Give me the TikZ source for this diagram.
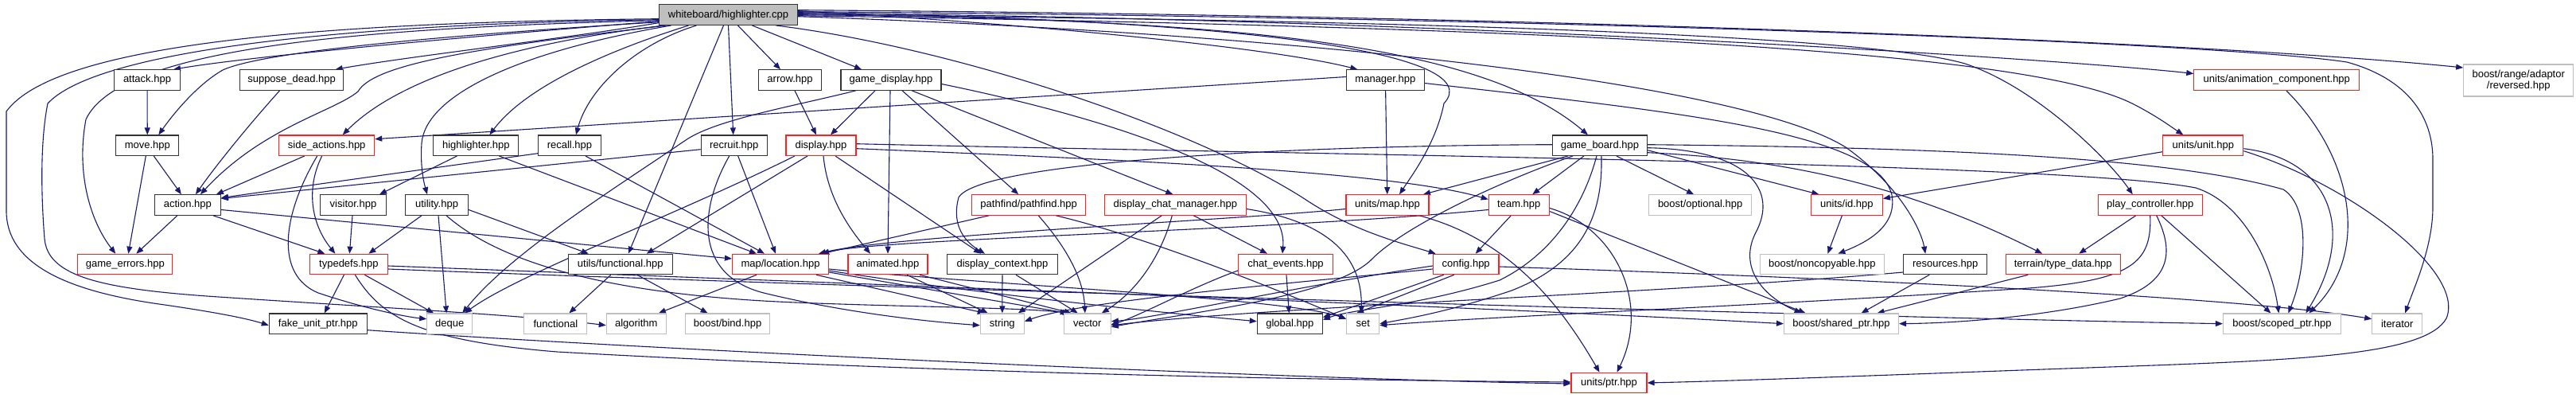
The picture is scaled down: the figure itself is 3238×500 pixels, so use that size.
\documentclass[tikz,border=0pt]{standalone}
\usepackage{fontspec}
\setmainfont{Liberation Sans}
\usetikzlibrary{arrows.meta}
\definecolor{edgec}{HTML}{191970}
\definecolor{grayb}{HTML}{BFBFBF}
\definecolor{redb}{HTML}{FF2020}
\pgfdeclarelayer{bg}
\pgfsetlayers{bg,main}
\begin{document}
\begin{tikzpicture}[x=1pt,y=-1pt,
  box/.style={rectangle, minimum height=25.5pt, inner sep=0pt, fill=white, line width=1.1pt, font=\fontsize{13}{14}\selectfont},
  nb/.style={box, draw=black!80},
  nr/.style={box, draw=redb},
  ng/.style={box, draw=grayb},
  e/.style={draw=edgec, line width=1.1pt, -{Triangle[length=9pt,width=7pt]}}
]
\useasboundingbox (0,0) rectangle (3238,500);
% ---------- nodes ----------
\node[nb, fill=grayb, minimum width=174] (root) at (915.5,18.7) {whiteboard/highlighter.cpp};
\node[nb, minimum width=83] (attack) at (185,100.5) {attack.hpp};
\node[nb, minimum width=130] (suppose) at (366.6,100.5) {suppose\_dead.hpp};
\node[nb, minimum width=79] (arrow) at (993,100.5) {arrow.hpp};
\node[nb, minimum width=126] (gdisplay) at (1120,100.5) {game\_display.hpp};
\node[nb, minimum width=98] (manager) at (1741.4,100.5) {manager.hpp};
\node[nr, minimum width=208] (animcomp) at (2861.8,100.5) {units/animation\_component.hpp};
\node[ng, minimum width=138, minimum height=40, align=center] (reversed) at (3165.7,101) {boost/range/adaptor\\/reversed.hpp};
\node[nb, minimum width=79] (move) at (185.3,182.7) {move.hpp};
\node[nr, minimum width=120] (sideact) at (410.7,182.7) {side\_actions.hpp};
\node[nb, minimum width=107] (hlight) at (598.4,182.7) {highlighter.hpp};
\node[nb, minimum width=79] (recall) at (716,182.7) {recall.hpp};
\node[nb, minimum width=83] (recruit) at (922.7,182.7) {recruit.hpp};
\node[nr, minimum width=88] (display) at (1032,182.7) {display.hpp};
\node[nb, minimum width=119] (gboard) at (2010.9,182.7) {game\_board.hpp};
\node[nr, minimum width=101] (unit) at (2769.3,182.7) {units/unit.hpp};
\node[nb, minimum width=83] (action) at (235.9,257.5) {action.hpp};
\node[nb, minimum width=83] (visitor) at (444,257.5) {visitor.hpp};
\node[nb, minimum width=79] (utility) at (549,257.5) {utility.hpp};
\node[nr, minimum width=143] (pathfind) at (1293.2,257.5) {pathfind/pathfind.hpp};
\node[nr, minimum width=178] (dcm) at (1477.3,257.5) {display\_chat\_manager.hpp};
\node[nr, minimum width=104] (umap) at (1744,257.5) {units/map.hpp};
\node[nr, minimum width=76] (team) at (1909.3,257.5) {team.hpp};
\node[ng, minimum width=129] (optional) at (2137.1,257.5) {boost/optional.hpp};
\node[nr, minimum width=90] (uid) at (2321.4,257.5) {units/id.hpp};
\node[nr, minimum width=131] (pctrl) at (2702.7,257.5) {play\_controller.hpp};
\node[nr, minimum width=119] (gerr) at (157.3,332) {game\_errors.hpp};
\node[nr, minimum width=97.5] (typedefs) at (438.4,332) {typedefs.hpp};
\node[nb, minimum width=131] (ufunc) at (779.8,332) {utils/functional.hpp};
\node[nr, minimum width=121] (loc) at (981,332) {map/location.hpp};
\node[nr, minimum width=100] (animated) at (1116,332) {animated.hpp};
\node[nb, minimum width=139] (dctx) at (1260,332) {display\_context.hpp};
\node[nr, minimum width=119] (chat) at (1616,332) {chat\_events.hpp};
\node[nr, minimum width=82.5] (config) at (1842.7,332) {config.hpp};
\node[ng, minimum width=156] (noncopy) at (2290.4,332) {boost/noncopyable.hpp};
\node[nb, minimum width=105] (resources) at (2445.2,332) {resources.hpp};
\node[nr, minimum width=144] (tdata) at (2593.2,332) {terrain/type\_data.hpp};
\node[nb, minimum width=123] (fake) at (399.8,406.7) {fake\_unit\_ptr.hpp};
\node[ng, minimum width=57] (deque) at (565.2,406.7) {deque};
\node[ng, minimum width=79] (functional) at (698.4,406.7) {functional};
\node[ng, minimum width=75] (algorithm) at (799.8,406.7) {algorithm};
\node[ng, minimum width=106] (bind) at (914.6,406.7) {boost/bind.hpp};
\node[ng, minimum width=55] (string) at (1259.8,406.7) {string};
\node[ng, minimum width=59] (vector) at (1366.8,406.7) {vector};
\node[nb, minimum width=82] (global) at (1621.3,406.7) {global.hpp};
\node[ng, minimum width=41] (set) at (1713.2,406.7) {set};
\node[ng, minimum width=144] (shptr) at (2314.5,406.7) {boost/shared\_ptr.hpp};
\node[ng, minimum width=148] (scptr) at (2868.4,406.7) {boost/scoped\_ptr.hpp};
\node[ng, minimum width=63] (iterator) at (3013.2,406.7) {iterator};
\node[nr, minimum width=95] (uptr) at (2022.5,481) {units/ptr.hpp};
% ---------- edges ----------
\begin{pgfonlayer}{bg}
\fill[white] (0,0) rectangle (3238,500);
% root, leftwards
\draw[e] ([yshift=-5]root.west) .. controls (400,28) and (70,55) .. (8,140) -- (8,265) .. controls (8,330) and (80,365) .. (200,382) .. controls (270,392) and (310,400) .. ([yshift=-2]fake.west);
\draw[e] ([yshift=-6]root.west) .. controls (420,30) and (120,65) .. (60,130) .. controls (50,180) and (52,250) .. (56,300) .. controls (60,345) and (120,362) .. (260,372) .. controls (450,385) and (650,395) .. ([yshift=-2]algorithm.west);
\draw[e] ([yshift=-7]root.west) .. controls (450,35) and (150,60) .. (108,150) .. controls (95,220) and (115,280) .. ([xshift=-12]gerr.north);
\draw[e] ([yshift=-8]root.west) .. controls (600,45) and (320,70) .. ([xshift=33]attack.north);
\draw[e] ([yshift=-9]root.west) .. controls (550,45) and (330,65) .. (280,88) .. controls (250,105) and (220,140) .. ([xshift=14]move.north);
\draw[e] ([yshift=-10]root.west) .. controls (700,50) and (520,70) .. ([xshift=55]suppose.north);
\draw[e] ([xshift=-80]root.south) .. controls (640,55) and (500,100) .. ([xshift=20]sideact.north);
\draw[e] ([xshift=-78]root.south) .. controls (600,60) and (470,80) .. (450,115) .. controls (420,140) and (330,160) .. ([xshift=16]action.north);
\draw[e] ([xshift=-72]root.south) .. controls (650,65) and (535,120) .. (530,180) .. controls (528,210) and (533,230) .. ([xshift=-12]utility.north);
\draw[e] ([xshift=-50]root.south) .. controls (760,65) and (660,110) .. ([xshift=17]hlight.north);
\draw[e] ([xshift=-40]root.south) .. controls (800,55) and (740,110) .. ([xshift=8]recall.north);
\draw[e] (root.south) -- ([xshift=-1]recruit.north);
\draw[e] ([xshift=-6]root.south) -- ([xshift=10]ufunc.north);
\draw[e] ([xshift=12]root.south) -- ([xshift=-12]arrow.north);
\draw[e] ([xshift=30]root.south) -- ([xshift=-37]gdisplay.north);
% root, rightwards
\draw[e] ([yshift=5]root.east) .. controls (1300,30) and (1600,60) .. ([xshift=-35]manager.north);
\draw[e] ([yshift=3]root.east) .. controls (1600,25) and (1870,70) .. (1815,130) .. controls (1805,180) and (1775,220) .. ([xshift=15]umap.north);
\draw[e] ([yshift=1]root.east) .. controls (1500,25) and (1850,45) .. ([xshift=-15]gboard.north);
\draw[e] ([xshift=60]root.south) .. controls (1200,60) and (1500,160) .. (1640,250) .. controls (1700,290) and (1760,305) .. ([xshift=-38]config.north);
\draw[e] ([yshift=-2]root.east) .. controls (1700,45) and (2200,110) .. (2320,185) .. controls (2390,235) and (2415,290) .. ([xshift=-25]resources.north);
\draw[e] (root.east) .. controls (1800,25) and (2350,45) .. (2470,80) .. controls (2560,110) and (2650,200) .. ([xshift=-22]pctrl.north);
\draw[e] ([yshift=-1]root.east) .. controls (2000,35) and (2550,65) .. (2680,130) .. controls (2710,145) and (2730,160) .. ([xshift=-25]unit.north);
\draw[e] ([yshift=2]root.east) .. controls (1800,22) and (2600,75) .. ([yshift=8]animcomp.west);
\draw[e] ([yshift=4]root.east) .. controls (2000,22) and (2800,55) .. (2950,78) .. controls (3030,100) and (3058,150) .. (3058,200) -- (3058,260) .. controls (3058,310) and (3035,360) .. ([xshift=10]iterator.north);
\draw[e] ([yshift=6]root.east) .. controls (2000,20) and (2800,55) .. ([yshift=16]reversed.west);
% whiteboard headers
\draw[e] (attack) -- (move);
\draw[e] ([xshift=-15]suppose.south) .. controls (310,160) and (270,210) .. ([xshift=10]action.north);
\draw[e] ([xshift=8]move.south) -- ([xshift=-8]action.north);
\draw[e] ([xshift=-2]move.south) -- ([xshift=4]gerr.north);
\draw[e] ([xshift=-28]sideact.south) -- ([xshift=36]action.north);
\draw[e] ([xshift=-6]sideact.south) .. controls (385,235) and (390,280) .. ([xshift=-17]typedefs.north);
\draw[e] ([xshift=-12]sideact.south) .. controls (355,270) and (345,345) .. (400,368) .. controls (460,388) and (510,398) .. ([yshift=6]deque.west);
\draw[e] ([xshift=-13]action.south) -- ([xshift=14]gerr.north);
\draw[e] ([xshift=32]action.south) -- ([xshift=-30]typedefs.north);
\draw[e] ([yshift=-6]action.east) -- ([yshift=7]loc.west);
\draw[e] ([yshift=-10]recall.west) -- ([yshift=9]action.east);
\draw[e] ([yshift=-5]recruit.west) -- ([yshift=8]action.east);
\draw[e] ([xshift=-24]hlight.south) -- ([xshift=33]visitor.north);
\draw[e] ([xshift=29]hlight.south) -- ([xshift=-30]loc.north);
\draw[e] ([xshift=20]recall.south) -- ([xshift=-20]loc.north);
\draw[e] ([xshift=5]recruit.south) -- ([xshift=-6]loc.north);
\draw[e] ([xshift=-6]recruit.south) .. controls (880,260) and (870,345) .. (960,368) .. controls (1050,390) and (1150,403) .. ([yshift=-2]string.west);
\draw[e] (visitor) -- (typedefs);
\draw[e] ([xshift=-19]utility.south) -- ([xshift=25]typedefs.north);
\draw[e] ([xshift=2]utility.south) -- ([xshift=-4]deque.north);
\draw[e] ([yshift=-6]utility.east) -- ([xshift=-40]ufunc.north);
\draw[e] ([xshift=12]utility.south) .. controls (640,340) and (800,372) .. (1000,380) .. controls (1150,386) and (1280,386) .. ([xshift=-22]vector.north);
\draw[e] ([xshift=-6]typedefs.south) -- ([xshift=8]fake.north);
\draw[e] ([xshift=20]typedefs.south) -- ([xshift=-20]deque.north);
\draw[e] ([xshift=8]typedefs.south) .. controls (480,400) and (530,428) .. (700,442) .. controls (1200,470) and (1700,478) .. ([yshift=1]uptr.west);
\draw[e] ([yshift=-8]fake.east) .. controls (800,438) and (1600,476) .. ([yshift=-1]uptr.west);
\draw[e] ([yshift=-2]typedefs.east) .. controls (900,350) and (1800,382) .. (shptr.west);
\draw[e] ([yshift=-6]typedefs.east) .. controls (1000,358) and (2300,398) .. (scptr.west);
% utils / location / display family
\draw[e] ([xshift=-12]ufunc.south) -- ([xshift=17]functional.north);
\draw[e] ([xshift=21]ufunc.south) -- ([xshift=-25]bind.north);
\draw[e] ([xshift=-30]loc.south) -- ([xshift=28]algorithm.north);
\draw[e] ([xshift=45]loc.south) -- ([xshift=-22]string.north);
\draw[e] ([yshift=-10]loc.east) -- ([xshift=-25]vector.north);
\draw[e] ([yshift=-8]loc.east) .. controls (1200,365) and (1450,392) .. ([yshift=3]global.west);
\draw[e] ([yshift=-6]loc.east) .. controls (1250,358) and (1620,375) .. ([yshift=6]set.west);
\draw[e] ([xshift=24]animated.south) -- ([xshift=-18]string.north);
\draw[e] ([xshift=40]animated.south) -- ([xshift=-20]vector.north);
\draw[e] (dctx) -- (string);
\draw[e] ([xshift=17]dctx.south) -- ([xshift=-12]vector.north);
\draw[e] ([xshift=-50]pathfind.south) -- ([xshift=52]loc.north);
\draw[e] ([xshift=12]pathfind.south) .. controls (1340,310) and (1362,350) .. ([xshift=-3]vector.north);
\draw[e] ([xshift=34]pathfind.south) .. controls (1450,300) and (1620,370) .. ([yshift=6]set.west);
\draw[e] ([xshift=-17]dcm.south) -- ([xshift=20]string.north);
\draw[e] ([xshift=-4]dcm.south) .. controls (1460,320) and (1430,365) .. ([xshift=18]vector.north);
\draw[e] ([xshift=23]dcm.south) -- ([xshift=-23]chat.north);
\draw[e] ([yshift=-5]dcm.east) .. controls (1680,280) and (1712,330) .. ([xshift=-2]set.north);
\draw[e] (chat) -- (global);
\draw[e] ([yshift=-8]chat.west) .. controls (1500,360) and (1430,398) .. ([yshift=-1]vector.east);
\draw[e] ([xshift=-20]gdisplay.south) -- ([xshift=12]display.north);
\draw[e] ([xshift=6]arrow.south) -- ([xshift=-6]display.north);
\draw[e] ([xshift=-44]gdisplay.south) .. controls (1000,133) and (900,150) .. (862,176) .. controls (760,245) and (640,320) .. ([xshift=16]deque.north);
\draw[e] ([xshift=-1]gdisplay.south) -- (animated.north);
\draw[e] ([xshift=14]gdisplay.south) -- ([xshift=-13]pathfind.north);
\draw[e] ([xshift=26]gdisplay.south) -- ([xshift=-3]dcm.north);
\draw[e] ([yshift=-5]gdisplay.east) .. controls (1400,150) and (1620,220) .. ([xshift=-4]chat.north);
\draw[e] ([xshift=-33]display.south) .. controls (850,270) and (650,345) .. ([xshift=19]deque.north);
\draw[e] ([xshift=-17]display.south) -- ([xshift=33]ufunc.north);
\draw[e] ([xshift=3]display.south) .. controls (1040,250) and (1070,290) .. ([xshift=-22]animated.north);
\draw[e] ([xshift=18]display.south) -- ([xshift=-27]dctx.north);
\draw[e] ([yshift=-4]display.east) .. controls (1400,200) and (1750,215) .. ([yshift=7]team.west);
\draw[e] ([yshift=2]display.east) .. controls (1700,195) and (2600,205) .. (2760,236) .. controls (2820,255) and (2855,330) .. ([xshift=-4]scptr.north);
% manager, team, units/map, config
\draw[e] ([yshift=4]manager.west) -- ([yshift=8]sideact.east);
\draw[e] (manager) -- (umap);
\draw[e] ([yshift=-4]manager.east) .. controls (2100,140) and (2360,165) .. (2378,245) .. controls (2385,285) and (2345,305) .. ([xshift=20]noncopy.north);
\draw[e] ([xshift=-10]team.south) -- ([xshift=12]config.north);
\draw[e] ([yshift=-6]team.west) .. controls (1600,290) and (1100,300) .. ([xshift=52]loc.north);
\draw[e] ([yshift=-5]umap.west) .. controls (1560,276) and (1120,296) .. ([xshift=48]loc.north);
\draw[e] ([xshift=40]umap.south) .. controls (1895,300) and (1960,380) .. ([xshift=-12]uptr.north);
\draw[e] ([yshift=-4]team.east) .. controls (2030,285) and (2075,380) .. ([xshift=10]uptr.north);
\draw[e] ([yshift=-8]team.east) -- ([xshift=-45]shptr.north);
\draw[e] ([yshift=-6]config.west) .. controls (1600,358) and (1360,378) .. ([yshift=3]string.east);
\draw[e] ([yshift=-2]config.west) .. controls (1650,356) and (1450,400) .. ([yshift=3]vector.east);
\draw[e] ([xshift=-28]config.south) -- ([yshift=8]global.east);
\draw[e] ([xshift=-15]config.south) -- ([xshift=-8]set.north);
\draw[e] ([yshift=-3]config.east) .. controls (2200,345) and (2800,370) .. ([yshift=6]iterator.west);
% game_board
\draw[e] ([yshift=1]gboard.west) .. controls (1600,183) and (1230,205) .. (1205,248) .. controls (1195,285) and (1215,305) .. ([xshift=-22]dctx.north);
\draw[e] ([xshift=-40]gboard.south) -- ([xshift=45]umap.north);
\draw[e] ([xshift=-20]gboard.south) -- ([xshift=17]team.north);
\draw[e] ([xshift=21]gboard.south) -- ([xshift=-8]optional.north);
\draw[e] ([yshift=-6]gboard.east) -- ([xshift=-35]uid.north);
\draw[e] ([yshift=-9]gboard.east) .. controls (2250,200) and (2400,235) .. ([xshift=-26]tdata.north);
\draw[e] ([yshift=-3]gboard.east) .. controls (2200,188) and (2235,240) .. (2207,292) .. controls (2185,335) and (2215,372) .. ([xshift=-50]shptr.north);
\draw[e] ([xshift=2]gboard.south) .. controls (2015,270) and (1990,330) .. (1900,365) .. controls (1820,392) and (1770,400) .. (set.east);
\draw[e] ([xshift=-4]gboard.south) .. controls (1990,260) and (1950,320) .. (1885,352) .. controls (1780,385) and (1700,388) .. ([yshift=5]global.east);
\draw[e] ([xshift=-34]gboard.south) .. controls (1880,230) and (1765,285) .. (1725,325) .. controls (1680,372) and (1500,392) .. ([yshift=-4]vector.east);
\draw[e] ([yshift=1]gboard.east) .. controls (2400,185) and (2720,195) .. (2870,238) .. controls (2905,260) and (2898,340) .. ([xshift=8]scptr.north);
% right part
\draw[e] ([xshift=-20]resources.south) -- ([xshift=25]shptr.north);
\draw[e] ([yshift=-10]resources.west) .. controls (2100,368) and (1600,385) .. ([yshift=-2]vector.east);
\draw[e] ([xshift=-44]tdata.south) -- ([xshift=45]shptr.north);
\draw[e] ([xshift=-18]pctrl.south) -- ([xshift=20]tdata.north);
\draw[e] ([xshift=14]pctrl.south) -- ([xshift=-14]scptr.north);
\draw[e] ([xshift=8]pctrl.south) .. controls (2735,320) and (2725,355) .. (2665,375) .. controls (2560,400) and (2450,406) .. (shptr.east);
\draw[e] (pctrl.south) .. controls (2705,330) and (2680,352) .. (2550,362) .. controls (2200,385) and (1900,396) .. ([yshift=-2]set.east);
\draw[e] ([yshift=-8]unit.west) -- ([yshift=8]uid.east);
\draw[e] ([yshift=-7]unit.east) .. controls (2950,230) and (3100,340) .. (3075,400) .. controls (3050,445) and (2900,452) .. (2680,460) .. controls (2400,470) and (2200,478) .. (uptr.east);
\draw[e] ([yshift=-4]unit.east) .. controls (2930,200) and (2962,290) .. ([xshift=30]scptr.north);
\draw[e] ([xshift=12]animcomp.south) .. controls (2960,200) and (2978,320) .. ([xshift=34]scptr.north);
\draw[e] ([xshift=-6]uid.south) -- ([xshift=7]noncopy.north);
\end{pgfonlayer}
\end{tikzpicture}
\end{document}
